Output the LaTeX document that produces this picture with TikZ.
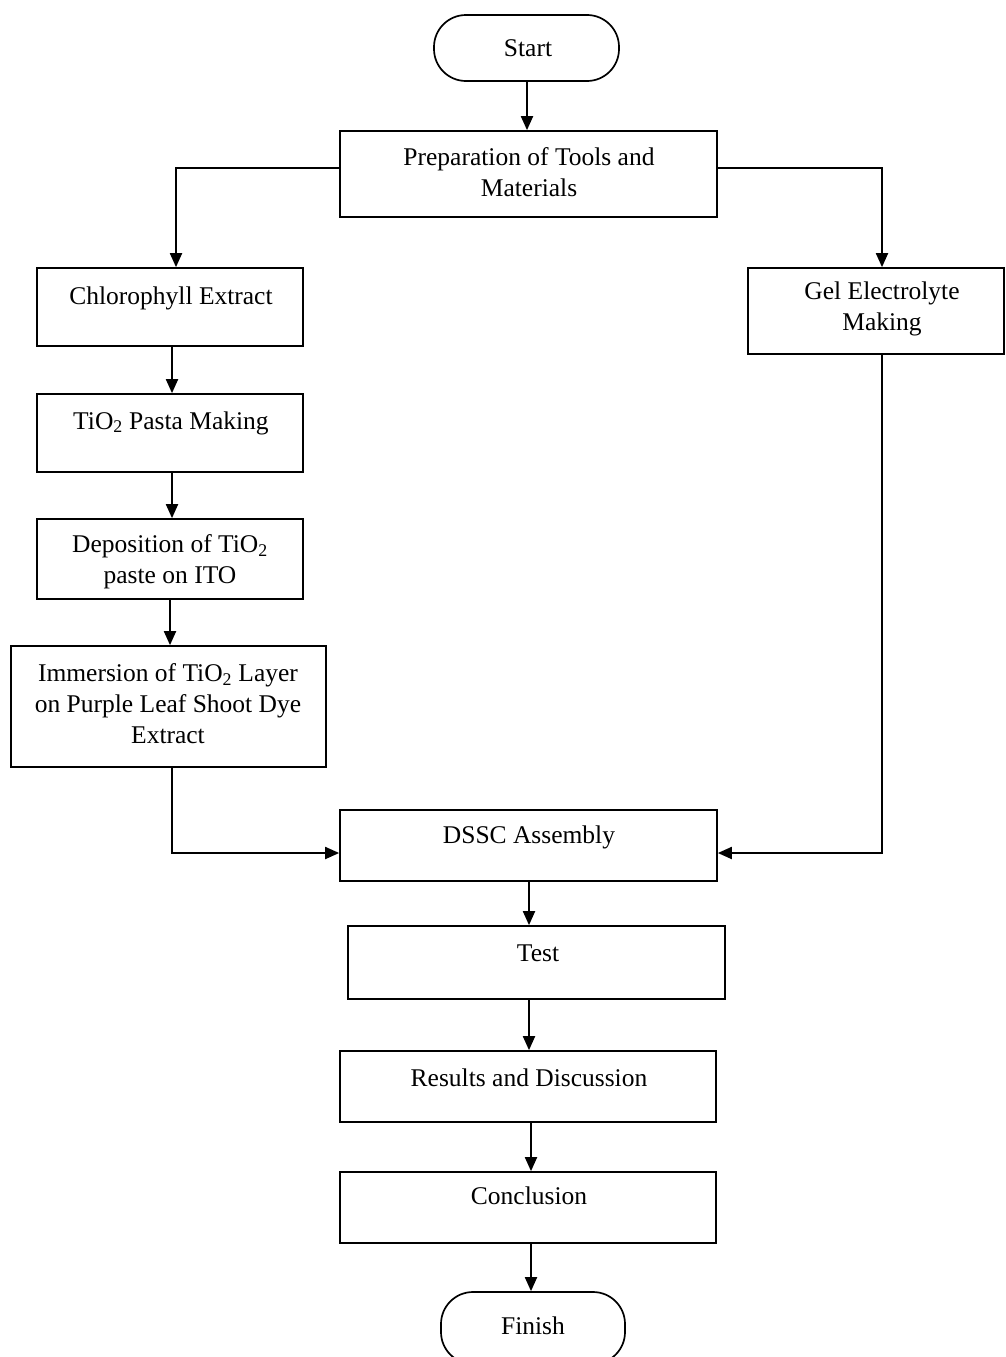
\documentclass[tikz,border=0pt]{standalone}
\usepackage{fontspec}
\setmainfont{Liberation Serif}
\usetikzlibrary{arrows.meta,calc}
\begin{document}
\begin{tikzpicture}[x=1pt,y=-1pt,
  box/.style={draw,line width=1.7pt,rectangle,inner sep=0pt},
  term/.style={draw,line width=1.7pt,rounded corners=32pt,inner sep=0pt},
  txt/.style={font=\fontsize{25.5}{31}\selectfont,align=center,inner sep=0pt},
  arr/.style={line width=1.9pt,-{Triangle[length=14pt,width=12pt]}}]
\useasboundingbox (0,0) rectangle (1005,1357);
\clip (0,0) rectangle (1005,1357);
% boxes
\node[term,minimum width=185pt,minimum height=66pt] (start) at (526.5,48) {};
\node[box,minimum width=377pt,minimum height=86pt] (prep) at (528.5,174) {};
\node[box,minimum width=266pt,minimum height=78pt] (chl) at (170,307) {};
\node[box,minimum width=256pt,minimum height=86pt] (gel) at (876,311) {};
\node[box,minimum width=266pt,minimum height=78pt] (tio) at (170,433) {};
\node[box,minimum width=266pt,minimum height=80pt] (dep) at (170,559) {};
\node[box,minimum width=315pt,minimum height=121pt] (imm) at (168.5,706.5) {};
\node[box,minimum width=377pt,minimum height=71pt] (dssc) at (528.5,845.5) {};
\node[box,minimum width=377pt,minimum height=73pt] (test) at (536.5,962.5) {};
\node[box,minimum width=376pt,minimum height=71pt] (res) at (528,1086.5) {};
\node[box,minimum width=376pt,minimum height=71pt] (conc) at (528,1207.5) {};
\node[term,minimum width=184pt,minimum height=72pt] (fin) at (533,1328) {};
% texts
\node[txt] (tstart) at (528,48) {Start};
\node[txt] (tprep) at (529,172) {Preparation of Tools and\\Materials};
\node[txt] (tchl) at (171,298) {Chlorophyll Extract};
\node[txt] (tgel) at (882,309) {Gel Electrolyte\\Making};
\node[txt] (ttio) at (171,423) {TiO\textsubscript{2} Pasta Making};
\node[txt] (tdep) at (170,562) {Deposition of TiO\textsubscript{2}\\paste on ITO};
\node[txt] (timm) at (168,704) {Immersion of TiO\textsubscript{2} Layer\\on Purple Leaf Shoot Dye\\Extract};
\node[txt] (tdssc) at (529,837) {DSSC Assembly};
\node[txt] (ttest) at (538,953) {Test};
\node[txt] (tres) at (529,1078) {Results and Discussion};
\node[txt] (tconc) at (529,1196) {Conclusion};
\node[txt] (tfin) at (533,1326) {Finish};
% connectors
\draw[arr] ([xshift=0.5pt]start.south) -- ([xshift=0.5pt]start.south |- prep.north);
\draw[arr] ([yshift=6pt]prep.west) -| ([xshift=6pt]chl.north);
\draw[arr] ([yshift=6pt]prep.east) -| ([xshift=6pt]gel.north);
\draw[arr] ([xshift=2pt]chl.south) -- ([xshift=2pt]tio.north);
\draw[arr] ([xshift=2pt]tio.south) -- ([xshift=2pt]dep.north);
\draw[arr] (dep.south) -- (dep.south |- imm.north);
\draw[arr] ([xshift=3.5pt]imm.south) |- ([yshift=-7.5pt]dssc.west);
\draw[arr] ([xshift=6pt]gel.south) |- ([yshift=-7.5pt]dssc.east);
\draw[arr] ([xshift=0.5pt]dssc.south) -- ([xshift=0.5pt]dssc.south |- test.north);
\draw[arr] ([xshift=1pt]res.north |- test.south) -- ([xshift=1pt]res.north);
\draw[arr] ([xshift=3pt]res.south) -- ([xshift=3pt]conc.north);
\draw[arr] ([xshift=3pt]conc.south) -- ([xshift=3pt]conc.south |- fin.north);
\end{tikzpicture}
\end{document}
